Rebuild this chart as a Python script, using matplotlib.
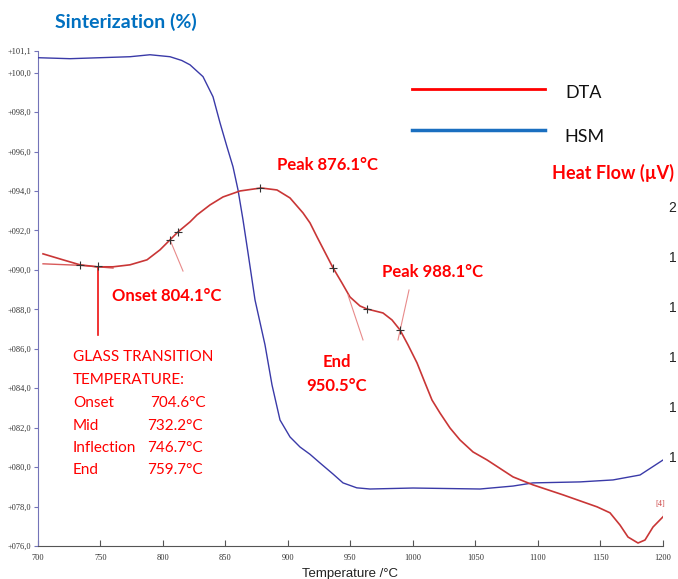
import matplotlib
matplotlib.use("Agg")
import matplotlib.pyplot as plt
from matplotlib.lines import Line2D

# ---------------- data ----------------
hsm_temp = [700, 725.6, 749.6, 773.6, 789.6, 805.6, 815, 821.6, 832, 840, 845.6, 851.2,
            856, 860, 864, 868, 873.6, 881.6, 887.2, 893.6, 901.6, 909.6, 917.6, 925.6,
            936, 944, 955, 965.6, 1000, 1053.6, 1080, 1096, 1133.6, 1160, 1181.6, 1200]
hsm_sinter = [100.76, 100.71, 100.76, 100.81, 100.91, 100.81, 100.62, 100.40, 99.80, 98.78,
              97.46, 96.24, 95.23, 94.06, 92.54, 90.87, 88.48, 86.20, 84.17, 82.39, 81.53,
              81.02, 80.65, 80.21, 79.65, 79.20, 78.95, 78.89, 78.94, 78.89, 79.04, 79.20,
              79.25, 79.35, 79.60, 80.36]

dta_temp = [704, 720, 733.6, 747.2, 760, 773.6, 787.2, 797.6, 805.6, 812, 821.6, 827.2,
            837.6, 848, 861.6, 878.4, 891.2, 901.6, 912, 917.6, 923.2, 936, 943.2, 949.6,
            957.6, 963.2, 976, 983.2, 989.6, 996, 1003.2, 1009.6, 1015.2, 1021.6, 1029.6,
            1037.6, 1048, 1059.2, 1080, 1096, 1120, 1147.2, 1157.6, 1165.6, 1172, 1180,
            1185.6, 1192, 1200]
dta_flow = [18.12, 17.88, 17.68, 17.60, 17.60, 17.68, 17.88, 18.28, 18.68, 19.00, 19.40,
            19.68, 20.08, 20.40, 20.64, 20.76, 20.68, 20.36, 19.76, 19.36, 18.80, 17.56,
            16.95, 16.39, 16.03, 15.91, 15.75, 15.47, 15.07, 14.47, 13.75, 12.95, 12.26,
            11.74, 11.14, 10.66, 10.18, 9.86, 9.18, 8.86, 8.46, 7.98, 7.74, 7.25, 6.77,
            6.53, 6.65, 7.17, 7.58]

baseline_temp = [704, 733.6, 760]
baseline_flow = [17.72, 17.66, 17.55]

mark_temp = [733.6, 748, 805.6, 812, 878, 936, 963.2, 989.6]
mark_flow = [17.68, 17.62, 18.68, 19.0, 20.76, 17.56, 15.91, 15.07]

tangent_lines = [([805.6, 816], [18.68, 17.43]),
                 ([948, 960], [16.47, 14.67]),
                 ([996.8, 988], [16.67, 14.67])]
onset_line_temp = [748, 748]
onset_line_flow = [17.60, 14.87]
end_leader_temp = [1200, 1200]
end_leader_flow = [7.58, 7.85]

x_ticks = list(range(700, 1201, 50))
y_ticks = [76, 78, 80, 82, 84, 86, 88, 90, 92, 94, 96, 98, 100, 101.1]
y_tick_labels = ["+" + f"{v:05.1f}".replace(".", ",") for v in y_ticks]
hf_ticks = [10, 12, 14, 16, 18, 20]
hf_tick_labels = ["1", "1", "1", "1", "1", "2"]   # only the first digit is visible

# ---------------- figure ----------------
W, H = 678, 579
fig = plt.figure(figsize=(W / 100, H / 100), dpi=100)
fig.patch.set_facecolor("white")

def px(x, y):
    return x / W, 1 - y / H

ax = fig.add_axes([38 / W, 1 - 546 / H, (663 - 38) / W, (546 - 51) / H])
ax.set_xlim(700, 1200)
ax.set_ylim(76, 101.1)
ax.plot(hsm_temp, hsm_sinter, color="#3a3aa8", lw=1.0, zorder=3)

for s in ["top", "right"]:
    ax.spines[s].set_visible(False)
ax.spines["left"].set_color("#7474b8")
ax.spines["bottom"].set_color("#555555")
ax.set_xticks(x_ticks)
ax.set_xticklabels([str(t) for t in x_ticks], family="Liberation Serif", fontsize=6, color="#333333")
ax.set_yticks(y_ticks)
ax.set_yticklabels(y_tick_labels, family="Liberation Serif", fontsize=6, color="#333333")
ax.tick_params(axis="x", direction="in", length=4, color="#555555", pad=6)
ax.tick_params(axis="y", direction="out", length=3, color="#7474b8", pad=2)
ax.set_xlabel("Temperature /°C", family="Liberation Sans", fontsize=9.5, color="#222222", labelpad=4)

# DTA on twin axis
ax2 = ax.twinx()
ax2.set_ylim(6.41, 26.25)
for s in ax2.spines.values():
    s.set_visible(False)
ax2.set_yticks(hf_ticks)
ax2.set_yticklabels(hf_tick_labels, family="Liberation Sans", fontsize=10, color="#222222")
ax2.tick_params(axis="y", length=0, pad=4)
ax2.plot(baseline_temp, baseline_flow, color="#d85a5a", lw=1.0)
ax2.plot(dta_temp, dta_flow, color="#c93636", lw=1.2)
for tx, ty in tangent_lines:
    ax2.plot(tx, ty, color="#e88a8a", lw=0.8)
ax2.plot(onset_line_temp, onset_line_flow, color="#ee1111", lw=1.2)
ax2.plot(end_leader_temp, end_leader_flow, color="#d06060", lw=0.8)
ax2.plot(mark_temp, mark_flow, linestyle="none", marker="+", color="#333333", ms=6, mew=0.8)
ax2.text(1198, 8.0, "[4]", family="Liberation Serif", fontsize=6, color="#cc4444", ha="center")

# ---------------- texts ----------------
bold = dict(family="Lato", fontweight="bold")
red = "#ff0000"
fig.text(*px(55, 22), "Sinterization (%)", color="#0070c0", fontsize=14, va="center", **bold)
fig.text(*px(277, 165), "Peak 876.1°C", color=red, fontsize=12, va="center", **bold)
fig.text(*px(112, 296), "Onset 804.1°C", color=red, fontsize=12, va="center", **bold)
fig.text(*px(382, 272), "Peak 988.1°C", color=red, fontsize=12, va="center", **bold)
fig.text(*px(337, 362), "End", color=red, fontsize=12, va="center", ha="center", **bold)
fig.text(*px(337, 386), "950.5°C", color=red, fontsize=12, va="center", ha="center", **bold)
fig.text(*px(552, 173), "Heat Flow (µV)", color=red, fontsize=13, va="center", **bold)

gt_labels = ["GLASS TRANSITION", "TEMPERATURE:", "Onset", "Mid", "Inflection", "End"]
gt_values = ["", "", "704.6°C", "732.2°C", "746.7°C", "759.7°C"]
gt_value_x = [0, 0, 150, 147, 147, 147]
gt_y = [357, 380, 403, 426, 448, 470]
for lab, val, vx, yy in zip(gt_labels, gt_values, gt_value_x, gt_y):
    fig.text(*px(73, yy), lab, color=red, fontsize=11, va="center", family="Lato")
    if val:
        fig.text(*px(vx, yy), val, color=red, fontsize=11, va="center", family="Lato")

# legend
fig.add_artist(Line2D([412 / W, 545 / W], [1 - 89 / H, 1 - 89 / H], color="#ff0000", lw=2))
fig.add_artist(Line2D([412 / W, 545 / W], [1 - 130 / H, 1 - 130 / H], color="#1a6fc0", lw=2.5))
fig.text(*px(565, 93), "DTA", color="#111111", fontsize=13, va="center", family="Lato")
fig.text(*px(564, 137), "HSM", color="#111111", fontsize=13, va="center", family="Lato")

fig.savefig("out.png", dpi=100)
